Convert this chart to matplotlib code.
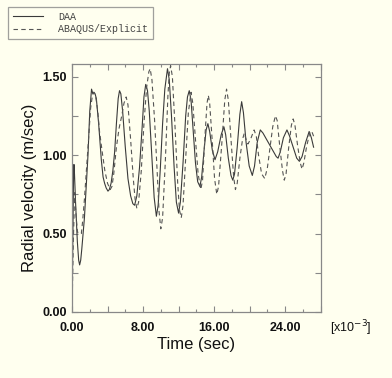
import matplotlib
matplotlib.use("Agg")
import matplotlib.pyplot as plt
from matplotlib.ticker import MultipleLocator, FuncFormatter

# Time in units of 1e-3 s, radial velocity in m/sec
daa_t = [0.0, 0.1, 0.18, 0.22, 0.28, 0.4, 0.6, 0.75, 0.86, 0.98, 1.1, 1.4, 1.8, 2.0, 2.2,
         2.35, 2.47, 2.6, 2.74, 3.0, 3.3, 3.5, 3.67, 3.85, 4.05, 4.2, 4.4, 4.6, 4.8, 5.0,
         5.2, 5.35, 5.5, 5.7, 6.0, 6.3, 6.6, 6.85, 7.05, 7.3, 7.6, 7.9, 8.1, 8.3, 8.5,
         8.7, 9.0, 9.25, 9.5, 9.7, 9.95, 10.2, 10.45, 10.75, 10.95, 11.2, 11.5, 11.75, 12.0,
         12.2, 12.5, 12.8, 13.0, 13.2, 13.4, 13.65, 13.9, 14.15, 14.4, 14.6, 14.85, 15.1,
         15.3, 15.5, 15.8, 16.1, 16.4, 16.8, 17.1, 17.3, 17.6, 17.9, 18.1, 18.3, 18.6,
         18.9, 19.1, 19.3, 19.6, 19.95, 20.3, 20.55, 20.85, 21.2, 21.5, 21.8, 22.2, 22.7,
         23.0, 23.2, 23.45, 23.8, 24.2, 24.5, 24.9, 25.3, 25.6, 25.9, 26.3, 26.7, 26.95, 27.2]
daa_v = [0.0, 0.5, 0.88, 0.94, 0.88, 0.70, 0.45, 0.33, 0.30, 0.33, 0.40, 0.60, 1.00, 1.28, 1.42,
         1.39, 1.40, 1.39, 1.36, 1.20, 0.97, 0.86, 0.82, 0.79, 0.77, 0.78, 0.82, 0.90, 1.02, 1.20,
         1.36, 1.41, 1.39, 1.28, 1.05, 0.85, 0.74, 0.69, 0.68, 0.74, 0.92, 1.18, 1.37, 1.45, 1.41,
         1.28, 0.98, 0.73, 0.61, 0.68, 0.92, 1.20, 1.42, 1.55, 1.48, 1.25, 0.92, 0.70, 0.63,
         0.70, 0.95, 1.25, 1.37, 1.41, 1.35, 1.15, 0.95, 0.83, 0.80, 0.86, 1.02, 1.16,
         1.20, 1.15, 1.03, 0.97, 1.02, 1.13, 1.18, 1.13, 0.98, 0.87, 0.84, 0.88, 1.05,
         1.26, 1.34, 1.27, 1.08, 0.93, 0.87, 0.93, 1.08, 1.16, 1.14, 1.11, 1.07, 1.02,
         0.99, 0.98, 1.02, 1.11, 1.16, 1.12, 1.05, 0.98, 0.96, 0.99, 1.08, 1.15, 1.11, 1.05]

abq_t = [0.0, 0.15, 0.3, 0.45, 0.6, 0.67, 1.05, 1.2, 1.4, 1.8, 2.1, 2.3, 2.45, 2.7, 2.9,
         3.1, 3.4, 3.7, 4.0, 4.3, 4.5, 4.7, 5.0, 5.3, 5.6, 5.85, 6.1, 6.3, 6.6, 6.9,
         7.1, 7.3, 7.5, 7.8, 8.1, 8.4, 8.65, 8.8, 9.0, 9.3, 9.6, 9.8, 10.0, 10.2, 10.5,
         10.8, 10.95, 11.1, 11.3, 11.6, 11.9, 12.1, 12.3, 12.5, 12.8, 13.1, 13.4, 13.6, 13.9,
         14.2, 14.5, 14.7, 15.0, 15.2, 15.35, 15.5, 15.8, 16.05, 16.3, 16.5, 16.9, 17.2,
         17.4, 17.6, 17.9, 18.2, 18.4, 18.6, 18.9, 19.2, 19.4, 19.6, 19.8, 20.1, 20.5,
         20.75, 21.0, 21.35, 21.7, 22.0, 22.3, 22.6, 22.9, 23.1, 23.4, 23.7, 23.9, 24.1,
         24.4, 24.7, 24.9, 25.1, 25.4, 25.7, 25.9, 26.1, 26.4, 26.8, 27.0, 27.2]
abq_v = [0.0, 0.45, 0.76, 0.62, 0.52, 0.50, 0.50, 0.58, 0.72, 1.05, 1.30, 1.38, 1.40, 1.36, 1.28,
         1.15, 1.02, 0.90, 0.82, 0.78, 0.80, 0.88, 1.05, 1.17, 1.25, 1.33, 1.37, 1.32, 1.10, 0.85,
         0.72, 0.66, 0.70, 0.90, 1.20, 1.43, 1.53, 1.55, 1.48, 1.22, 0.88, 0.64, 0.53, 0.60, 0.95,
         1.38, 1.52, 1.57, 1.50, 1.18, 0.82, 0.65, 0.60, 0.68, 0.98, 1.27, 1.40, 1.33, 1.10,
         0.88, 0.78, 0.84, 1.15, 1.33, 1.38, 1.33, 1.08, 0.85, 0.75, 0.80, 1.10, 1.35,
         1.42, 1.35, 1.10, 0.86, 0.78, 0.82, 0.98, 1.10, 1.14, 1.10, 1.07, 1.10, 1.16,
         1.12, 1.00, 0.88, 0.85, 0.92, 1.05, 1.18, 1.25, 1.22, 1.05, 0.90, 0.84, 0.88,
         1.05, 1.19, 1.23, 1.19, 1.06, 0.95, 0.91, 0.95, 1.05, 1.15, 1.15, 1.12]

labels = ["DAA", "ABAQUS/Explicit"]

bg = "#FFFFEF"
fig = plt.figure(figsize=(3.92, 3.78), dpi=100, facecolor=bg)
ax = fig.add_axes([72/392, 1-312/378, (320.7-72)/392, (312-64)/378], facecolor=bg)

l1, = ax.plot(daa_t, daa_v, color="#3a3a3a", lw=0.8, solid_joinstyle="round")
l2, = ax.plot(abq_t, abq_v, color="#555555", lw=0.8, linestyle=(0, (4, 3)))

ax.set_xlim(0, 28)
ax.set_ylim(0, 1.58)
ax.xaxis.set_major_locator(MultipleLocator(4))
ax.xaxis.set_minor_locator(MultipleLocator(2))
ax.yaxis.set_major_locator(MultipleLocator(0.5))
ax.yaxis.set_minor_locator(MultipleLocator(0.25))
ax.xaxis.set_major_formatter(FuncFormatter(lambda v, p: f"{v:.2f}" if abs(v/8 - round(v/8)) < 1e-6 else ""))
ax.yaxis.set_major_formatter(FuncFormatter(lambda v, p: f"{v:.2f}"))

ax.tick_params(which="both", direction="in", top=True, right=True, color="#888888")
ax.tick_params(which="major", length=4, width=0.8)
ax.tick_params(which="minor", length=2.5, width=0.8)
ax.tick_params(axis="y", which="minor", length=4)
ax.tick_params(axis="x", which="major", pad=7)
ax.tick_params(axis="y", which="major", pad=3.5)
for s in ax.spines.values():
    s.set_color("#888888")
    s.set_linewidth(0.9)
for lab in ax.get_xticklabels() + ax.get_yticklabels():
    lab.set_fontfamily("Liberation Sans")
    lab.set_fontsize(9)
    lab.set_fontweight("bold")
    lab.set_color("#111111")

ax.set_xlabel("Time (sec)", fontsize=12, family="Liberation Sans", labelpad=2, color="#111111")
ax.set_ylabel("Radial velocity (m/sec)", fontsize=12, family="Liberation Sans", labelpad=4, color="#111111")
fig.text(330/392, 1-328/378, "[x10$^{-3}$]", fontsize=9, family="Liberation Sans",
         va="center", ha="left", color="#111111")

leg = fig.legend([l1, l2], labels, loc="upper left", bbox_to_anchor=(8/392, 1-7/378),
                 prop={"family": "Liberation Mono", "size": 7.2}, frameon=True, fancybox=False,
                 handlelength=3.0, handletextpad=1.6, borderpad=0.45, labelspacing=0.25,
                 borderaxespad=0)
leg.get_frame().set_edgecolor("#888888")
leg.get_frame().set_facecolor(bg)
leg.get_frame().set_linewidth(0.9)
for t in leg.get_texts():
    t.set_color("#444444")

fig.savefig("out.png", dpi=100, facecolor=bg)
